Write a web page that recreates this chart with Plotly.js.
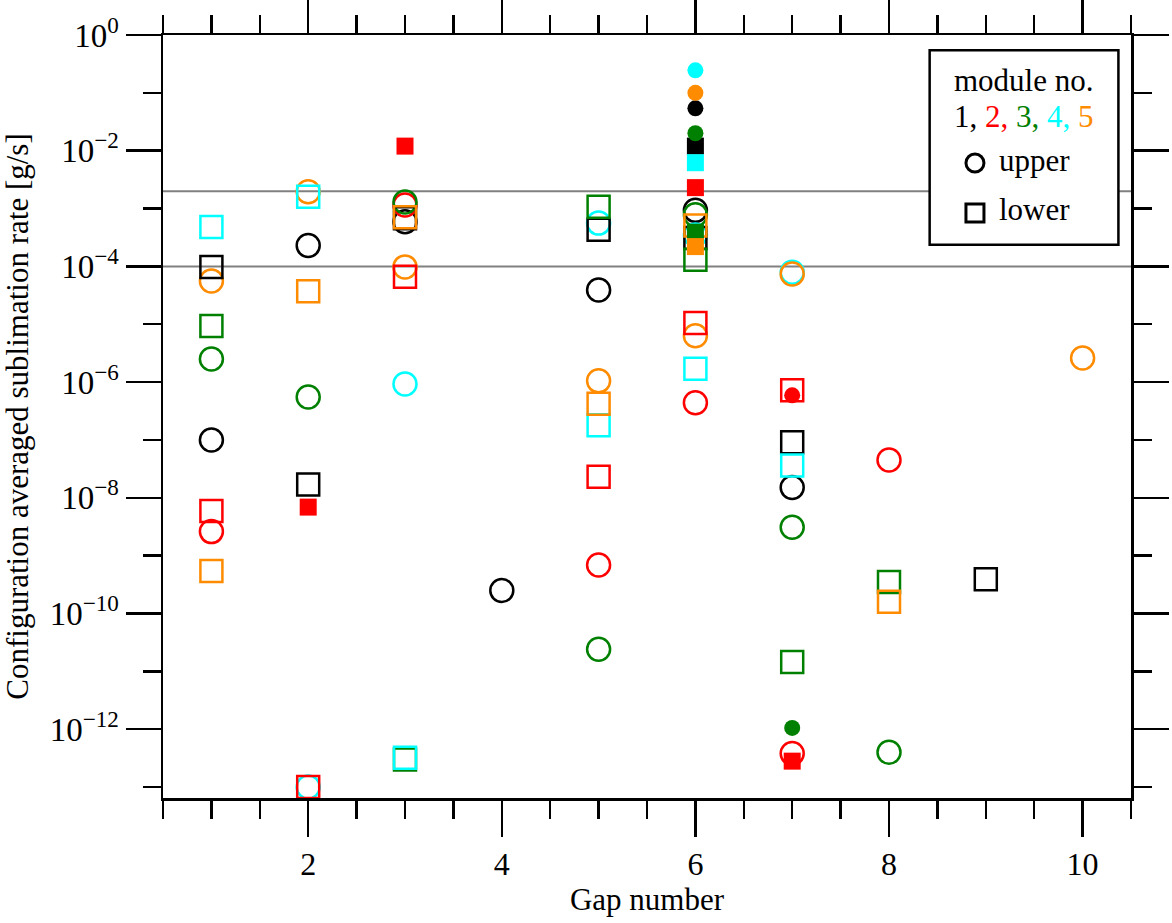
<!DOCTYPE html>
<html>
<head>
<meta charset="utf-8">
<script src="https://cdn.plot.ly/plotly-3.0.1.min.js"></script>
<style>html,body{margin:0;padding:0;background:#fff;}#chart{width:1172px;height:923px;}</style>
</head>
<body>
<div id="chart"></div>
<script>
// ---- Data (gap number, configuration averaged sublimation rate [g/s]) ----
// Module 1 (black)
const m1UpperGap = [1, 2, 3, 4, 5, 6, 7];
const m1UpperRate = [1.0e-7, 2.3e-4, 5.9e-4, 2.5e-10, 3.9e-5, 9.3e-4, 1.5e-8];
const m1LowerGap = [1, 2, 3, 5, 6, 7, 9];
const m1LowerRate = [9.8e-5, 1.7e-8, 6.8e-4, 4.3e-4, 3.1e-4, 9.1e-8, 3.9e-10];
const m1UpperFilledGap = [6];
const m1UpperFilledRate = [5.4e-2];
const m1LowerFilledGap = [6];
const m1LowerFilledRate = [1.2e-2];
// Module 2 (red)
const m2UpperGap = [1, 3, 5, 6, 7, 8];
const m2UpperRate = [2.6e-9, 1.15e-3, 6.9e-10, 4.4e-7, 3.8e-13, 4.5e-8];
const m2LowerGap = [1, 2, 3, 5, 6, 7];
const m2LowerRate = [5.9e-9, 1.0e-13, 6.6e-5, 2.3e-8, 1.05e-5, 7.2e-7];
const m2UpperFilledGap = [7];
const m2UpperFilledRate = [5.9e-7];
const m2LowerFilledGap = [2, 3, 6, 7];
const m2LowerFilledRate = [6.9e-9, 1.2e-2, 2.3e-3, 2.8e-13];
// Module 3 (green)
const m3UpperGap = [1, 2, 3, 5, 6, 7, 8];
const m3UpperRate = [2.5e-6, 5.5e-7, 1.3e-3, 2.4e-11, 7.8e-4, 3.1e-9, 4.0e-13];
const m3LowerGap = [1, 3, 5, 6, 7, 8];
const m3LowerRate = [9.3e-6, 3.0e-13, 1.07e-3, 1.3e-4, 1.45e-11, 3.5e-10];
const m3UpperFilledGap = [6, 7];
const m3UpperFilledRate = [2.0e-2, 1.05e-12];
const m3LowerFilledGap = [6];
const m3LowerFilledRate = [3.9e-4];
// Module 4 (cyan)
const m4UpperGap = [2, 3, 5, 6, 7];
const m4UpperRate = [1.0e-13, 9.3e-7, 5.6e-4, 3.5e-4, 7.9e-5];
const m4LowerGap = [1, 2, 3, 5, 6, 7];
const m4LowerRate = [4.8e-4, 1.6e-3, 3.2e-13, 1.8e-7, 1.7e-6, 3.6e-8];
const m4UpperFilledGap = [6];
const m4UpperFilledRate = [0.245];
const m4LowerFilledGap = [6];
const m4LowerFilledRate = [6.2e-3];
// Module 5 (orange)
const m5UpperGap = [1, 2, 3, 5, 6, 7, 10];
const m5UpperRate = [5.6e-5, 1.95e-3, 9.8e-5, 1.05e-6, 6.3e-6, 7.4e-5, 2.6e-6];
const m5LowerGap = [1, 2, 3, 5, 6, 8];
const m5LowerRate = [5.4e-10, 3.7e-5, 7.1e-4, 4.2e-7, 5.1e-4, 1.6e-10];
const m5UpperFilledGap = [6];
const m5UpperFilledRate = [0.1];
const m5LowerFilledGap = [6];
const m5LowerFilledRate = [2.2e-4];

// Reference levels
const refLevels = [2e-3, 1e-4];
// Axis ticks
const yMajorVals = [1, 1e-2, 1e-4, 1e-6, 1e-8, 1e-10, 1e-12];
const yMajorText = ['10<sup>0</sup>', '10<sup>−2</sup>', '10<sup>−4</sup>', '10<sup>−6</sup>', '10<sup>−8</sup>', '10<sup>−10</sup>', '10<sup>−12</sup>'];
const yMinorVals = [1e-1, 1e-3, 1e-5, 1e-7, 1e-9, 1e-11, 1e-13];
const xMajorVals = [2, 4, 6, 8, 10];

const modules = [
  {color: '#000000', ug: m1UpperGap, ur: m1UpperRate, lg: m1LowerGap, lr: m1LowerRate, ufg: m1UpperFilledGap, ufr: m1UpperFilledRate, lfg: m1LowerFilledGap, lfr: m1LowerFilledRate},
  {color: '#ff0000', ug: m2UpperGap, ur: m2UpperRate, lg: m2LowerGap, lr: m2LowerRate, ufg: m2UpperFilledGap, ufr: m2UpperFilledRate, lfg: m2LowerFilledGap, lfr: m2LowerFilledRate},
  {color: '#008000', ug: m3UpperGap, ur: m3UpperRate, lg: m3LowerGap, lr: m3LowerRate, ufg: m3UpperFilledGap, ufr: m3UpperFilledRate, lfg: m3LowerFilledGap, lfr: m3LowerFilledRate},
  {color: '#00ffff', ug: m4UpperGap, ur: m4UpperRate, lg: m4LowerGap, lr: m4LowerRate, ufg: m4UpperFilledGap, ufr: m4UpperFilledRate, lfg: m4LowerFilledGap, lfr: m4LowerFilledRate},
  {color: '#ff8c00', ug: m5UpperGap, ur: m5UpperRate, lg: m5LowerGap, lr: m5LowerRate, ufg: m5UpperFilledGap, ufr: m5UpperFilledRate, lfg: m5LowerFilledGap, lfr: m5LowerFilledRate}
];

const traces = [];
modules.forEach(m => {
  traces.push({x: m.ug, y: m.ur, type: 'scatter', mode: 'markers', showlegend: false,
    marker: {symbol: 'circle-open', size: 23, color: m.color, line: {width: 2.5, color: m.color}}});
});
modules.forEach(m => {
  traces.push({x: m.lg, y: m.lr, type: 'scatter', mode: 'markers', showlegend: false,
    marker: {symbol: 'square-open', size: 22, color: m.color, line: {width: 2.5, color: m.color}}});
});
modules.forEach(m => {
  traces.push({x: m.ufg, y: m.ufr, type: 'scatter', mode: 'markers', showlegend: false,
    marker: {symbol: 'circle', size: 16, color: m.color, line: {width: 0}}});
  traces.push({x: m.lfg, y: m.lfr, type: 'scatter', mode: 'markers', showlegend: false,
    marker: {symbol: 'square', size: 17, color: m.color, line: {width: 0}}});
});

const FONT = 'Liberation Serif, Times New Roman, serif';

const shapes = refLevels.map(v => ({
  type: 'line', xref: 'paper', x0: 0, x1: 1, yref: 'y', y0: v, y1: v,
  line: {color: '#808080', width: 2}, layer: 'below'
}));
// legend box
shapes.push({type: 'rect', xref: 'paper', yref: 'paper', x0: 0.792, x1: 0.987, y0: 0.725, y1: 0.980,
  fillcolor: '#ffffff', line: {color: '#000000', width: 2.5}, layer: 'above'});
shapes.push({type: 'circle', xref: 'paper', yref: 'paper', xsizemode: 'pixel', ysizemode: 'pixel',
  xanchor: 0.8388, yanchor: 0.8322, x0: -9, x1: 9, y0: -9, y1: 9,
  line: {color: '#000000', width: 3}, layer: 'above'});
shapes.push({type: 'rect', xref: 'paper', yref: 'paper', xsizemode: 'pixel', ysizemode: 'pixel',
  xanchor: 0.8388, yanchor: 0.7667, x0: -9, x1: 9, y0: -9, y1: 9,
  line: {color: '#000000', width: 3}, layer: 'above'});

const LF = 31;
const annotations = [
  {xref: 'paper', yref: 'paper', x: 0.889, y: 0.94, text: 'module no.', showarrow: false,
    font: {family: FONT, size: LF, color: '#000'}, xanchor: 'center', yanchor: 'middle'},
  {xref: 'paper', yref: 'paper', x: 0.889, y: 0.893,
    text: '1, <span style="color:#ff0000">2,</span> <span style="color:#008000">3,</span> <span style="color:#00ffff">4,</span> <span style="color:#ff8c00">5</span>',
    showarrow: false, font: {family: FONT, size: LF, color: '#000'}, xanchor: 'center', yanchor: 'middle'},
  {xref: 'paper', yref: 'paper', x: 0.862, y: 0.836, text: 'upper', showarrow: false,
    font: {family: FONT, size: LF, color: '#000'}, xanchor: 'left', yanchor: 'middle'},
  {xref: 'paper', yref: 'paper', x: 0.862, y: 0.771, text: 'lower', showarrow: false,
    font: {family: FONT, size: LF, color: '#000'}, xanchor: 'left', yanchor: 'middle'}
];

const layout = {
  width: 1172, height: 923,
  margin: {l: 163, r: 41, t: 35, b: 125, pad: 0},
  paper_bgcolor: '#ffffff', plot_bgcolor: '#ffffff',
  font: {family: FONT, size: 31, color: '#000'},
  showlegend: false,
  xaxis: {
    range: [0.5, 10.5], tickmode: 'array', tickvals: xMajorVals,
    ticks: 'outside', ticklen: 36, tickwidth: 2.5, tickcolor: '#000',
    showline: true, linecolor: '#000', linewidth: 2.5, mirror: 'allticks',
    showgrid: false, zeroline: false,
    tickfont: {family: FONT, size: 32},
    minor: {tick0: 0.5, dtick: 0.5, ticks: 'outside', ticklen: 18, tickwidth: 2.5, tickcolor: '#000', showgrid: false},
    title: {text: 'Gap number', font: {family: FONT, size: 31}, standoff: 2}
  },
  yaxis: {
    type: 'log', range: [-13.19, 0], tickmode: 'array', tickvals: yMajorVals, ticktext: yMajorText,
    ticks: 'outside', ticklen: 35, tickwidth: 2.5, tickcolor: '#000',
    showline: true, linecolor: '#000', linewidth: 2.5, mirror: 'allticks',
    showgrid: false, zeroline: false,
    tickfont: {family: FONT, size: 33},
    minor: {tickmode: 'array', tickvals: yMinorVals, ticks: 'outside', ticklen: 18, tickwidth: 2.5, tickcolor: '#000', showgrid: false},
    title: {text: 'Configuration averaged sublimation rate [g/s]', font: {family: FONT, size: 31}, standoff: 14}
  },
  shapes: shapes,
  annotations: annotations
};

Plotly.newPlot('chart', traces, layout, {displayModeBar: false, staticPlot: true});
</script>
</body>
</html>
